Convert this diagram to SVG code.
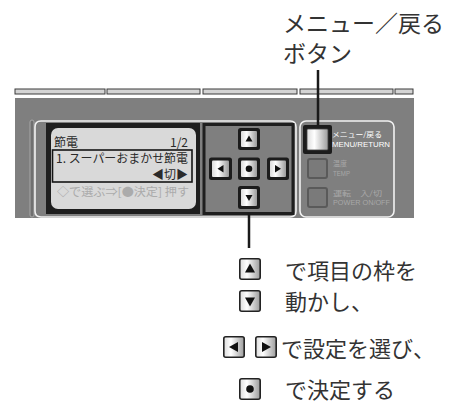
<svg xmlns="http://www.w3.org/2000/svg" width="452" height="403" viewBox="0 0 452 403">
<defs>
<linearGradient id="btn" x1="0" y1="0" x2="1" y2="0">
<stop offset="0" stop-color="#dcdcdc"/>
<stop offset="0.35" stop-color="#ffffff"/>
<stop offset="1" stop-color="#9c9c9c"/>
</linearGradient>
<style>
.jp{font-family:"Noto Sans CJK JP","Noto Sans",sans-serif;}
.lbl{font-size:22px;fill:#333;}
.big{font-size:23px;fill:#333;}
.disp{font-size:12px;fill:#2a2a2a;}
.dim{font-size:11.5px;fill:#ababab;}
.seg{fill:#d4d4d4;stroke:#3a3a3a;stroke-width:1;}
.frame{fill:#1e1e1e;}
.outline{fill:none;stroke:#f2f2f2;stroke-width:1.6;}
.pbtn{fill:#1c1c1c;}
.pin{fill:url(#btn);}
.ibtn{fill:url(#btn);stroke:#222;stroke-width:1.6;}
.glyph{fill:#111;}
.wtxt{fill:#ffffff;font-size:7px;}
.gtxt{fill:#a8a8a8;font-size:7px;}
.dbtn{fill:#7a7a7a;stroke:#5a5a5a;stroke-width:2;}
.conn{stroke:#1a1a1a;stroke-width:2.5;fill:none;}
</style>
</defs>
<rect width="452" height="403" fill="#ffffff"/>

<g id="panel">
<rect x="15" y="89" width="90" height="5" class="seg"/>
<rect x="107" y="89" width="93" height="5" class="seg"/>
<rect x="203" y="89" width="94" height="5" class="seg"/>
<rect x="300" y="89" width="93" height="5" class="seg"/>
<rect x="395" y="89" width="18" height="5" class="seg"/>
<rect x="15" y="98" width="399" height="120" fill="#7f7f7f"/>
<rect x="30" y="120" width="4" height="97" rx="2" fill="#707070" stroke="#a8a8a8" stroke-width="1"/>
<path d="M41 121 H290 Q296 121 296 127 V211 Q296 217 290 217 H41 Q35 217 35 211 V127 Q35 121 41 121 Z" class="outline"/>
<rect x="300" y="121" width="94" height="96" rx="6" class="outline"/>
</g>

<g id="display">
<rect x="46" y="123" width="154" height="91" class="frame"/>
<rect x="51" y="128" width="145" height="81" rx="7" fill="#d9d9d9"/>
<rect x="52.5" y="150" width="139.5" height="32" fill="none" stroke="#151515" stroke-width="1.6"/>
<text x="54" y="147" class="jp disp">節電</text>
<text x="188" y="147" class="jp disp" text-anchor="end">1/2</text>
<text x="56" y="163" class="jp disp" textLength="132" lengthAdjust="spacingAndGlyphs">1. スーパーおまかせ節電</text>
<text x="188" y="179" class="jp disp" text-anchor="end">◀切▶</text>
<text x="57" y="196" class="jp dim" textLength="132" lengthAdjust="spacingAndGlyphs">◇で選ぶ⇒[●決定] 押す</text>
</g>

<g id="dpad">
<rect x="204" y="124.5" width="89" height="89" fill="#7f7f7f" stroke="#1e1e1e" stroke-width="3"/>
<g id="btn-up">
<rect x="238" y="128" width="22" height="22" rx="2.5" class="pbtn"/>
<rect x="241" y="131" width="16" height="16" rx="1" class="pin"/>
<path d="M249 135.5 L252.5 141.5 H245.5 Z" class="glyph"/>
</g>
<g id="btn-left">
<rect x="209" y="157.5" width="23" height="22.5" rx="2.5" class="pbtn"/>
<rect x="212" y="160.5" width="17" height="16.5" rx="1" class="pin"/>
<path d="M217.5 168.7 L223.5 165 V172.4 Z" class="glyph"/>
</g>
<g id="btn-center">
<rect x="238" y="157.5" width="22" height="22.5" rx="2.5" class="pbtn"/>
<rect x="241" y="160.5" width="16" height="16.5" rx="1" class="pin"/>
<circle cx="249" cy="168.7" r="3.3" class="glyph"/>
</g>
<g id="btn-right">
<rect x="267" y="157.5" width="22" height="22.5" rx="2.5" class="pbtn"/>
<rect x="270" y="160.5" width="16" height="16.5" rx="1" class="pin"/>
<path d="M281 168.7 L275 165 V172.4 Z" class="glyph"/>
</g>
<g id="btn-down">
<rect x="238" y="186" width="22" height="23" rx="2.5" class="pbtn"/>
<rect x="241" y="189" width="16" height="17" rx="1" class="pin"/>
<path d="M249 201 L252.5 195 H245.5 Z" class="glyph"/>
</g>
</g>

<g id="menu-button">
<rect x="303" y="125" width="29" height="29" rx="2" class="pbtn"/>
<rect x="307" y="129" width="21" height="21" rx="1" class="pin" stroke="#444" stroke-width="0.8"/>
<text x="332" y="137" class="jp wtxt" textLength="50" lengthAdjust="spacingAndGlyphs">メニュー/戻る</text>
<text x="332" y="147" class="wtxt" font-family="'Liberation Sans',Arial,sans-serif" font-size="8" textLength="58" lengthAdjust="spacingAndGlyphs">MENU/RETURN</text>
</g>

<g id="temp-button">
<rect x="308" y="159" width="19" height="19" rx="2" class="dbtn"/>
<text x="333" y="166" class="jp gtxt">温度</text>
<text x="333" y="176" class="gtxt" font-family="'Liberation Sans',Arial,sans-serif" font-size="7.5" textLength="17" lengthAdjust="spacingAndGlyphs">TEMP</text>
</g>

<g id="power-button">
<rect x="308" y="188" width="19" height="19" rx="2" class="dbtn"/>
<text x="333" y="196" class="jp gtxt" textLength="49" lengthAdjust="spacingAndGlyphs">運転　入/切</text>
<text x="333" y="205" class="gtxt" font-family="'Liberation Sans',Arial,sans-serif" font-size="7.5" textLength="57" lengthAdjust="spacingAndGlyphs">POWER  ON/OFF</text>
</g>

<g id="connectors">
<line x1="318" y1="70" x2="318" y2="126" class="conn"/>
<line x1="249" y1="213" x2="249" y2="248" class="conn"/>
</g>

<g id="title-label">
<text x="283" y="32" class="jp big">メニュー／戻る</text>
<text x="283" y="62" class="jp big">ボタン</text>
</g>

<g id="legend">
<g id="icon-up">
<rect x="239.8" y="258.8" width="20.4" height="20.4" rx="2" class="ibtn"/>
<path d="M250 263.5 L255 272.5 H245 Z" class="glyph"/>
</g>
<text x="285" y="279" class="jp lbl">で項目の枠を</text>
<g id="icon-down">
<rect x="239.8" y="290.8" width="20.4" height="20.4" rx="2" class="ibtn"/>
<path d="M250 306.5 L255 297.5 H245 Z" class="glyph"/>
</g>
<text x="285" y="310" class="jp lbl">動かし、</text>
<g id="icon-left">
<rect x="223.8" y="336.8" width="20.4" height="20.4" rx="2" class="ibtn"/>
<path d="M229 347 L238 342 V352 Z" class="glyph"/>
</g>
<g id="icon-right">
<rect x="255.8" y="336.8" width="20.4" height="20.4" rx="2" class="ibtn"/>
<path d="M271 347 L262 342 V352 Z" class="glyph"/>
</g>
<text x="281" y="357" class="jp lbl">で設定を選び、</text>
<g id="icon-center">
<rect x="239.8" y="378.8" width="20.4" height="20.4" rx="2" class="ibtn"/>
<circle cx="250" cy="389" r="3.8" class="glyph"/>
</g>
<text x="285" y="398" class="jp lbl">で決定する</text>
</g>
</svg>
